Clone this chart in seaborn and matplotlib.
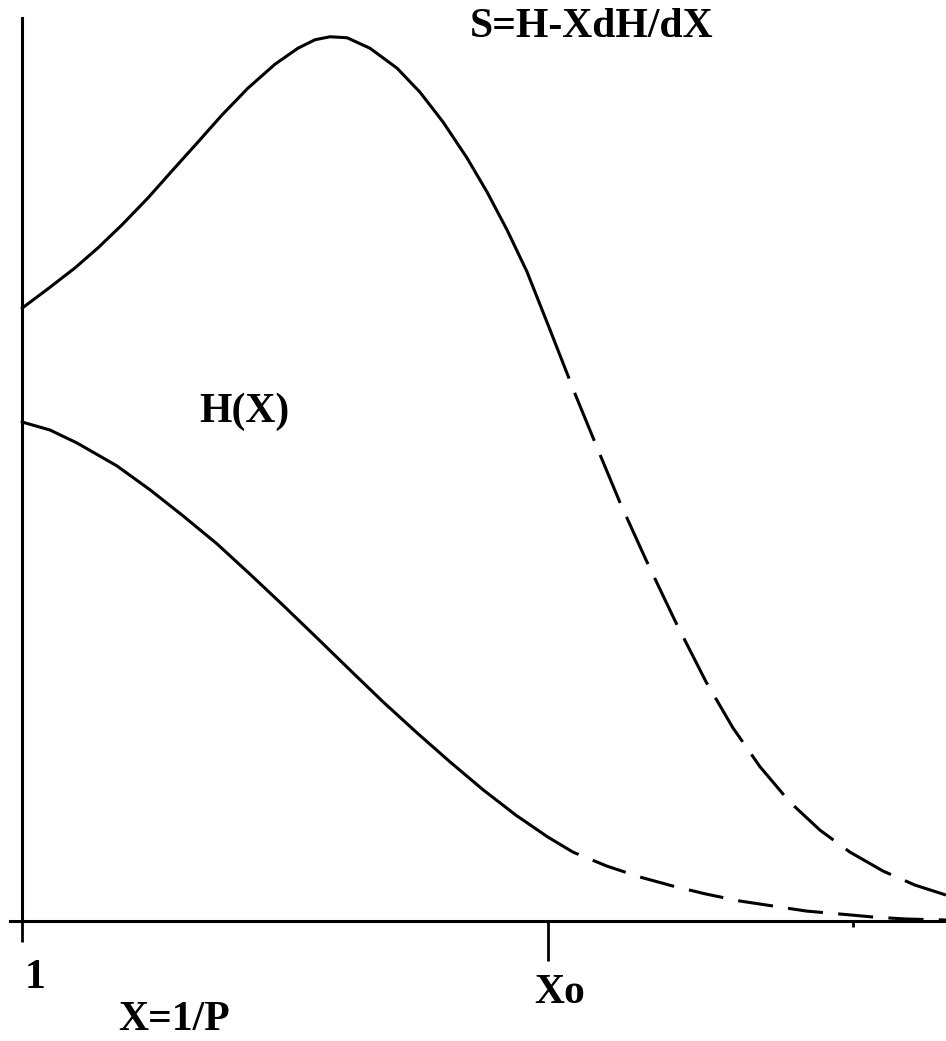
import numpy as np
import pandas as pd
import matplotlib
matplotlib.use('Agg')
import matplotlib.pyplot as plt
import seaborn as sns

# values (X = 1/P, curves scaled so H(1) = 1)
XO = 3.0
s_solid_x = [1.000, 1.099, 1.202, 1.289, 1.380, 1.479, 1.570, 1.669, 1.760, 1.859,
             1.962, 2.049, 2.114, 2.171, 2.236, 2.323, 2.426, 2.513, 2.601, 2.692,
             2.768, 2.844, 2.920, 3.008]
s_solid_y = [1.228, 1.267, 1.309, 1.349, 1.395, 1.449, 1.503, 1.561, 1.615, 1.669,
             1.717, 1.749, 1.766, 1.772, 1.770, 1.749, 1.709, 1.661, 1.601, 1.529,
             1.461, 1.385, 1.301, 1.184]
s_dash_x = [3.008, 3.106, 3.198, 3.274, 3.373, 3.487, 3.601, 3.703, 3.806, 3.920,
            4.034, 4.148, 4.274, 4.395, 4.513]
s_dash_y = [1.184, 1.052, 0.934, 0.838, 0.723, 0.597, 0.479, 0.387, 0.309, 0.238,
            0.182, 0.138, 0.100, 0.072, 0.052]
h_solid_x = [1.000, 1.106, 1.209, 1.361, 1.487, 1.612, 1.741, 1.867, 1.992, 2.122,
             2.247, 2.373, 2.502, 2.627, 2.753, 2.878, 3.000]
h_solid_y = [1.000, 0.984, 0.958, 0.912, 0.864, 0.812, 0.756, 0.695, 0.633, 0.567,
             0.503, 0.439, 0.377, 0.319, 0.263, 0.212, 0.168]
h_dash_x = [3.000, 3.095, 3.224, 3.350, 3.475, 3.601, 3.730, 3.856, 3.981, 4.110,
            4.236, 4.361, 4.513]
h_dash_y = [0.168, 0.138, 0.110, 0.088, 0.070, 0.054, 0.040, 0.030, 0.020, 0.014,
            0.008, 0.004, 0.002]

tick_pos = [1.0, XO, 4.16]

sns.set_style('white')
plt.rcParams['font.family'] = ['Liberation Serif', 'DejaVu Serif']
plt.rcParams['font.weight'] = 'bold'

fig = plt.figure(figsize=(9.46, 10.41), dpi=100)
ax = fig.add_axes([10 / 946, 1 - 921 / 1041, 936 / 946, 903 / 1041])

lw = 2.2
sns.lineplot(x=s_solid_x, y=s_solid_y, ax=ax, color='black', lw=lw)
sns.lineplot(x=s_dash_x, y=s_dash_y, ax=ax, color='black', lw=lw,
             linestyle=(0, (17, 5)))
sns.lineplot(x=h_solid_x, y=h_solid_y, ax=ax, color='black', lw=lw)
sns.lineplot(x=h_dash_x, y=h_dash_y, ax=ax, color='black', lw=lw,
             linestyle=(0, (11.5, 5)))

ax.set_xlim(0.9544, 4.513)
ax.set_ylim(0, 1.8096)

# axes: left spine at X=1, bottom at 0, no box
sns.despine(ax=ax, top=True, right=True)
ax.spines['left'].set_position(('data', 1.0))
for side in ['left', 'bottom']:
    ax.spines[side].set_linewidth(lw)
    ax.spines[side].set_color('black')

ax.set_yticks([])
ax.set_xticks(tick_pos)
ax.set_xticklabels(['', '', ''])
ax.tick_params(axis='x', direction='out', width=2, color='black', bottom=True)
for t, length in zip(ax.xaxis.get_major_ticks(), [15, 29, 4]):
    t.tick1line.set_markersize(length)
ax.set_xlabel('')
ax.set_ylabel('')

txt = dict(fontsize=30, fontweight='bold', ha='center', va='center',
           color='black', clip_on=False)
ax.text(1.049, -0.114, '1', **txt)
ax.text(3.046, -0.144, 'Xo', **txt)
ax.text(1.578, -0.198, 'X=1/P', **txt)
ax.text(1.844, 1.020, 'H(X)', **txt)
ax.text(3.167, 1.792, 'S=H-XdH/dX', **txt)

fig.savefig('out.png', dpi=100, facecolor='white')
